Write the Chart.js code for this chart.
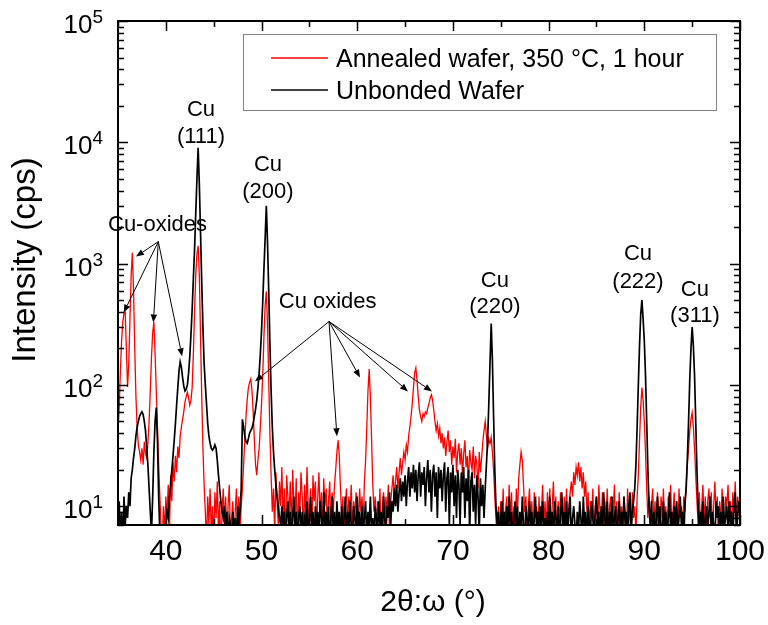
<!DOCTYPE html>
<html>
<head>
<meta charset="utf-8">
<title>XRD 2θ:ω scan</title>
<script src="https://cdn.jsdelivr.net/npm/chart.js@4/dist/chart.umd.min.js"></script>
<style>
  html, body { margin: 0; padding: 0; background: #fff; }
  canvas { display: block; }
</style>
</head>
<body>
<canvas id="xrd" width="768" height="625"></canvas>
<script>
// Scan angle, 2θ (degrees), 0.125° step — one row per degree
const twoTheta = [
  35, 35.125, 35.25, 35.375, 35.5, 35.625, 35.75, 35.875,
  36, 36.125, 36.25, 36.375, 36.5, 36.625, 36.75, 36.875,
  37, 37.125, 37.25, 37.375, 37.5, 37.625, 37.75, 37.875,
  38, 38.125, 38.25, 38.375, 38.5, 38.625, 38.75, 38.875,
  39, 39.125, 39.25, 39.375, 39.5, 39.625, 39.75, 39.875,
  40, 40.125, 40.25, 40.375, 40.5, 40.625, 40.75, 40.875,
  41, 41.125, 41.25, 41.375, 41.5, 41.625, 41.75, 41.875,
  42, 42.125, 42.25, 42.375, 42.5, 42.625, 42.75, 42.875,
  43, 43.125, 43.25, 43.375, 43.5, 43.625, 43.75, 43.875,
  44, 44.125, 44.25, 44.375, 44.5, 44.625, 44.75, 44.875,
  45, 45.125, 45.25, 45.375, 45.5, 45.625, 45.75, 45.875,
  46, 46.125, 46.25, 46.375, 46.5, 46.625, 46.75, 46.875,
  47, 47.125, 47.25, 47.375, 47.5, 47.625, 47.75, 47.875,
  48, 48.125, 48.25, 48.375, 48.5, 48.625, 48.75, 48.875,
  49, 49.125, 49.25, 49.375, 49.5, 49.625, 49.75, 49.875,
  50, 50.125, 50.25, 50.375, 50.5, 50.625, 50.75, 50.875,
  51, 51.125, 51.25, 51.375, 51.5, 51.625, 51.75, 51.875,
  52, 52.125, 52.25, 52.375, 52.5, 52.625, 52.75, 52.875,
  53, 53.125, 53.25, 53.375, 53.5, 53.625, 53.75, 53.875,
  54, 54.125, 54.25, 54.375, 54.5, 54.625, 54.75, 54.875,
  55, 55.125, 55.25, 55.375, 55.5, 55.625, 55.75, 55.875,
  56, 56.125, 56.25, 56.375, 56.5, 56.625, 56.75, 56.875,
  57, 57.125, 57.25, 57.375, 57.5, 57.625, 57.75, 57.875,
  58, 58.125, 58.25, 58.375, 58.5, 58.625, 58.75, 58.875,
  59, 59.125, 59.25, 59.375, 59.5, 59.625, 59.75, 59.875,
  60, 60.125, 60.25, 60.375, 60.5, 60.625, 60.75, 60.875,
  61, 61.125, 61.25, 61.375, 61.5, 61.625, 61.75, 61.875,
  62, 62.125, 62.25, 62.375, 62.5, 62.625, 62.75, 62.875,
  63, 63.125, 63.25, 63.375, 63.5, 63.625, 63.75, 63.875,
  64, 64.125, 64.25, 64.375, 64.5, 64.625, 64.75, 64.875,
  65, 65.125, 65.25, 65.375, 65.5, 65.625, 65.75, 65.875,
  66, 66.125, 66.25, 66.375, 66.5, 66.625, 66.75, 66.875,
  67, 67.125, 67.25, 67.375, 67.5, 67.625, 67.75, 67.875,
  68, 68.125, 68.25, 68.375, 68.5, 68.625, 68.75, 68.875,
  69, 69.125, 69.25, 69.375, 69.5, 69.625, 69.75, 69.875,
  70, 70.125, 70.25, 70.375, 70.5, 70.625, 70.75, 70.875,
  71, 71.125, 71.25, 71.375, 71.5, 71.625, 71.75, 71.875,
  72, 72.125, 72.25, 72.375, 72.5, 72.625, 72.75, 72.875,
  73, 73.125, 73.25, 73.375, 73.5, 73.625, 73.75, 73.875,
  74, 74.125, 74.25, 74.375, 74.5, 74.625, 74.75, 74.875,
  75, 75.125, 75.25, 75.375, 75.5, 75.625, 75.75, 75.875,
  76, 76.125, 76.25, 76.375, 76.5, 76.625, 76.75, 76.875,
  77, 77.125, 77.25, 77.375, 77.5, 77.625, 77.75, 77.875,
  78, 78.125, 78.25, 78.375, 78.5, 78.625, 78.75, 78.875,
  79, 79.125, 79.25, 79.375, 79.5, 79.625, 79.75, 79.875,
  80, 80.125, 80.25, 80.375, 80.5, 80.625, 80.75, 80.875,
  81, 81.125, 81.25, 81.375, 81.5, 81.625, 81.75, 81.875,
  82, 82.125, 82.25, 82.375, 82.5, 82.625, 82.75, 82.875,
  83, 83.125, 83.25, 83.375, 83.5, 83.625, 83.75, 83.875,
  84, 84.125, 84.25, 84.375, 84.5, 84.625, 84.75, 84.875,
  85, 85.125, 85.25, 85.375, 85.5, 85.625, 85.75, 85.875,
  86, 86.125, 86.25, 86.375, 86.5, 86.625, 86.75, 86.875,
  87, 87.125, 87.25, 87.375, 87.5, 87.625, 87.75, 87.875,
  88, 88.125, 88.25, 88.375, 88.5, 88.625, 88.75, 88.875,
  89, 89.125, 89.25, 89.375, 89.5, 89.625, 89.75, 89.875,
  90, 90.125, 90.25, 90.375, 90.5, 90.625, 90.75, 90.875,
  91, 91.125, 91.25, 91.375, 91.5, 91.625, 91.75, 91.875,
  92, 92.125, 92.25, 92.375, 92.5, 92.625, 92.75, 92.875,
  93, 93.125, 93.25, 93.375, 93.5, 93.625, 93.75, 93.875,
  94, 94.125, 94.25, 94.375, 94.5, 94.625, 94.75, 94.875,
  95, 95.125, 95.25, 95.375, 95.5, 95.625, 95.75, 95.875,
  96, 96.125, 96.25, 96.375, 96.5, 96.625, 96.75, 96.875,
  97, 97.125, 97.25, 97.375, 97.5, 97.625, 97.75, 97.875,
  98, 98.125, 98.25, 98.375, 98.5, 98.625, 98.75, 98.875,
  99, 99.125, 99.25, 99.375, 99.5, 99.625, 99.75, 99.875,
  100
];

// Annealed wafer, 350 °C, 1 hour (cps) — one row per degree
const annealed = [
  40, 65, 130, 230, 330, 390, 400, 200,
  96, 150, 350, 800, 1230, 600, 200, 80,
  45, 32, 28, 24, 30, 22, 34, 27,
  25, 33, 50, 90, 170, 270, 330, 180,
  90, 45, 22, 12, 7, 5, 10, 6,
  12, 8, 15, 6, 18, 11, 23, 16,
  26, 19, 31, 25, 38, 45, 52, 60,
  72, 80, 87, 78, 68, 75, 95, 180,
  400, 800, 1200, 1400, 800, 250, 80, 30,
  15, 9, 5, 12, 7, 14, 6, 10,
  5, 13, 8, 16, 6, 11, 4, 9,
  14, 7, 12, 5, 10, 15, 6, 8,
  11, 5, 9, 14, 7, 12, 6, 10,
  14, 22, 35, 55, 75, 95, 105, 112,
  90, 60, 35, 22, 18, 24, 30, 45,
  70, 120, 250, 450, 590, 320, 110, 40,
  18, 9, 14, 6, 19, 11, 7, 16,
  10, 21, 7, 14, 5, 18, 12, 8,
  16, 6, 20, 11, 8, 17, 5, 13,
  9, 19, 12, 6, 15, 8, 21, 10,
  7, 14, 5, 18, 11, 16, 6, 12,
  19, 8, 13, 5, 17, 10, 14, 7,
  11, 16, 6, 13, 9, 15, 20, 28,
  35, 26, 14, 8, 12, 5, 10, 14,
  7, 12, 9, 15, 6, 11, 8, 13,
  10, 6, 14, 9, 12, 7, 16, 24,
  45, 90, 135, 80, 35, 15, 9, 12,
  6, 11, 8, 14, 5, 10, 13, 7,
  12, 9, 15, 6, 11, 14, 18, 12,
  16, 21, 14, 19, 25, 18, 23, 28,
  24, 32, 28, 38, 45, 55, 70, 95,
  125, 138, 110, 80, 62, 55, 50, 58,
  55, 60, 58, 65, 70, 78, 83, 75,
  62, 50, 42, 48, 38, 44, 33, 40,
  30, 37, 26, 34, 42, 28, 35, 22,
  31, 25, 36, 19, 28, 33, 22, 30,
  18, 27, 35, 21, 26, 15, 29, 23,
  20, 31, 17, 26, 22, 14, 28, 19,
  25, 34, 42, 50, 38, 30, 36, 33,
  37, 28, 20, 12, 8, 5, 10, 6,
  11, 7, 14, 5, 9, 12, 6, 15,
  8, 13, 6, 10, 5, 14, 9, 17,
  22, 28, 24, 15, 9, 12, 5, 10,
  14, 7, 11, 5, 13, 8, 10, 6,
  12, 5, 9, 15, 7, 11, 6, 13,
  8, 14, 6, 10, 16, 7, 12, 5,
  11, 7, 13, 9, 5, 12, 8, 14,
  6, 10, 13, 16, 12, 19, 15, 21,
  18, 23, 16, 21, 14, 19, 12, 16,
  9, 13, 6, 11, 8, 14, 5, 10,
  12, 6, 15, 9, 7, 13, 5, 11,
  8, 14, 6, 10, 12, 5, 9, 15,
  7, 11, 5, 13, 8, 10, 6, 12,
  9, 5, 14, 7, 11, 6, 13, 8,
  10, 6, 12, 18, 35, 65, 95, 75,
  50, 28, 14, 8, 12, 6, 10, 14,
  7, 11, 5, 13, 9, 6, 12, 8,
  14, 6, 10, 5, 12, 8, 15, 7,
  9, 13, 6, 11, 5, 14, 8, 10,
  6, 12, 9, 15, 22, 30, 42, 52,
  59, 45, 30, 18, 11, 7, 13, 6,
  10, 15, 7, 12, 5, 11, 14, 8,
  13, 6, 10, 16, 8, 12, 5, 11,
  7, 14, 9, 5, 12, 10, 15, 8,
  11, 6, 13, 9, 16, 7, 12, 10,
  9
];

// Unbonded wafer (cps) — one row per degree
const unbonded = [
  6, 11, 5, 9, 4, 12, 7, 10,
  8, 13, 10, 17, 20, 25, 30, 38,
  45, 50, 55, 58, 60, 57, 50, 42,
  30, 22, 14, 9, 6, 12, 28, 50,
  65, 35, 12, 6, 4, 5, 7, 5,
  7, 9, 8, 12, 15, 20, 26, 35,
  48, 68, 95, 130, 155, 140, 115, 98,
  89, 92, 100, 125, 170, 260, 420, 750,
  1300, 2600, 5000, 9000, 4500, 1800, 700, 300,
  150, 100, 70, 48, 38, 33, 30, 29,
  30, 32, 30, 24, 18, 14, 11, 9,
  8, 10, 6, 9, 5, 8, 7, 4,
  9, 6, 8, 5, 10, 7, 9, 14,
  52, 45, 38, 34, 33, 36, 40, 42,
  44, 48, 55, 63, 75, 95, 125, 180,
  280, 480, 900, 1600, 3000, 1500, 600, 220,
  90, 45, 28, 20, 15, 12, 10, 8,
  7, 10, 6, 9, 5, 8, 11, 6,
  9, 5, 8, 12, 6, 9, 4, 8,
  10, 6, 9, 5, 8, 7, 11, 5,
  8, 12, 6, 9, 5, 10, 7, 9,
  6, 11, 8, 5, 13, 7, 9, 6,
  10, 5, 8, 12, 6, 9, 5, 11,
  7, 9, 5, 10, 6, 8, 12, 5,
  9, 6, 11, 7, 5, 10, 8, 6,
  12, 7, 9, 5, 10, 6, 8, 11,
  5, 9, 7, 12, 6, 8, 5, 10,
  8, 6, 11, 7, 9, 5, 12, 8,
  6, 10, 8, 13, 7, 11, 9, 14,
  10, 15, 9, 13, 17, 11, 16, 12,
  18, 10, 16, 21, 12, 19, 14, 22,
  13, 20, 11, 18, 23, 12, 19, 15,
  21, 10, 17, 24, 13, 20, 9, 18,
  22, 12, 19, 8, 21, 14, 20, 11,
  18, 23, 9, 17, 21, 7, 19, 13,
  22, 10, 18, 8, 20, 15, 7, 19,
  13, 21, 8, 17, 11, 20, 6, 16,
  19, 9, 15, 7, 18, 12, 6, 17,
  10, 15, 8, 14, 22, 35, 70, 150,
  320, 160, 55, 20, 10, 7, 9, 5,
  8, 11, 6, 9, 5, 10, 7, 12,
  6, 9, 5, 8, 11, 7, 10, 5,
  9, 6, 12, 7, 5, 10, 8, 6,
  11, 7, 9, 5, 8, 12, 6, 9,
  5, 10, 7, 11, 6, 8, 5, 9,
  7, 12, 6, 9, 5, 11, 8, 6,
  10, 5, 8, 13, 7, 9, 6, 11,
  6, 9, 12, 5, 8, 10, 7, 5,
  9, 6, 11, 8, 5, 12, 7, 9,
  5, 10, 7, 6, 11, 8, 5, 9,
  12, 7, 9, 5, 10, 6, 13, 8,
  6, 11, 5, 9, 7, 12, 6, 8,
  10, 5, 8, 11, 6, 9, 7, 12,
  7, 9, 5, 10, 13, 6, 9, 11,
  14, 22, 45, 100, 210, 380, 500, 350,
  230, 120, 50, 20, 10, 7, 11, 6,
  9, 5, 8, 12, 6, 10, 7, 5,
  11, 7, 9, 5, 8, 13, 6, 9,
  5, 10, 7, 11, 6, 8, 12, 7,
  9, 5, 11, 14, 25, 50, 110, 200,
  300, 210, 120, 50, 20, 10, 6, 9,
  7, 11, 5, 8, 10, 6, 9, 12,
  6, 9, 7, 5, 11, 8, 10, 6,
  9, 5, 12, 7, 8, 10, 6, 11,
  7, 9, 5, 10, 13, 6, 8, 11,
  9
];

const seriesNames = ['Annealed wafer, 350 °C, 1 hour', 'Unbonded Wafer'];
const seriesColors = ['#ff0000', '#000000'];

// Axis ticks and labels
const xTickValues = [40, 50, 60, 70, 80, 90, 100];
const xTickLabels = ['40', '50', '60', '70', '80', '90', '100'];
const yDecadeExponents = [1, 2, 3, 4, 5];
const yTickBase = '10';
const xTitle = '2θ:ω (°)';
const yTitle = 'Intensity (cps)';

// Reflection labels (two lines each), placed in data coordinates
const reflectionLabels = [
  { x: 43.67, lines: [['Cu', 16500], ['(111)', 9800]] },
  { x: 50.67, lines: [['Cu', 5800], ['(200)', 3500]] },
  { x: 74.39, lines: [['Cu', 647], ['(220)', 388]] },
  { x: 89.34, lines: [['Cu', 1080], ['(222)', 635]] },
  { x: 95.29, lines: [['Cu', 545], ['(311)', 327]] }
];

// Oxide call-outs: text anchor, arrow origin and arrow tips (data coordinates)
const oxideCallouts = [
  {
    text: 'Cu-oxides', at: [39.13, 1870], from: [39.21, 1517],
    tips: [[36.88, 1143], [35.6, 395], [38.7, 327], [41.7, 172]]
  },
  {
    text: 'Cu oxides', at: [56.91, 434], from: [57.05, 333],
    tips: [[49.32, 107], [57.88, 37.7], [60.29, 115], [65.3, 88.4], [67.81, 88.4]]
  }
];

const FONT = '"Liberation Sans", Arial, Helvetica, sans-serif';

function arrow(ctx, x0, y0, x1, y1) {
  const ang = Math.atan2(y1 - y0, x1 - x0);
  const len = 8, half = 3.2;
  const bx = x1 - len * Math.cos(ang), by = y1 - len * Math.sin(ang);
  ctx.beginPath();
  ctx.moveTo(x0, y0);
  ctx.lineTo(bx, by);
  ctx.stroke();
  ctx.beginPath();
  ctx.moveTo(x1, y1);
  ctx.lineTo(bx + half * Math.sin(ang), by - half * Math.cos(ang));
  ctx.lineTo(bx - half * Math.sin(ang), by + half * Math.cos(ang));
  ctx.closePath();
  ctx.fill();
}

const decorations = {
  id: 'decorations',
  afterDatasetsDraw(chart) {
    const { ctx, chartArea: a, scales: { x, y } } = chart;
    ctx.save();
    ctx.strokeStyle = '#000';
    ctx.fillStyle = '#000';

    // tick marks, pointing inward on all four sides
    ctx.lineWidth = 1.5;
    ctx.beginPath();
    for (let v = 35; v <= 100; v += 5) {
      const px = Math.round(x.getPixelForValue(v)) + 0.5;
      const len = v % 10 === 0 ? 10 : 6;
      ctx.moveTo(px, a.bottom); ctx.lineTo(px, a.bottom - len);
      ctx.moveTo(px, a.top); ctx.lineTo(px, a.top + len);
    }
    for (let e = 0; e <= 5; e++) {
      for (let m = 1; m <= 9; m++) {
        const v = m * Math.pow(10, e);
        if (v < y.min || v > y.max) continue;
        const py = Math.round(y.getPixelForValue(v)) + 0.5;
        const len = m === 1 ? 10 : 6;
        ctx.moveTo(a.left, py); ctx.lineTo(a.left + len, py);
        ctx.moveTo(a.right, py); ctx.lineTo(a.right - len, py);
      }
    }
    ctx.stroke();

    // frame
    ctx.lineWidth = 2;
    ctx.strokeRect(a.left, a.top, a.right - a.left, a.bottom - a.top);

    // x tick labels
    ctx.font = '30px ' + FONT;
    ctx.textAlign = 'center';
    ctx.textBaseline = 'alphabetic';
    xTickValues.forEach((v, i) => {
      ctx.fillText(xTickLabels[i], x.getPixelForValue(v), a.bottom + 35);
    });

    // y tick labels: 10 with raised exponent
    yDecadeExponents.forEach(exp => {
      const py = y.getPixelForValue(Math.pow(10, exp));
      const right = a.left - 15;
      ctx.font = '19px ' + FONT;
      const ew = ctx.measureText(String(exp)).width;
      ctx.textAlign = 'left';
      ctx.fillText(String(exp), right - ew, py + 2);
      ctx.font = '26px ' + FONT;
      const bw = ctx.measureText(yTickBase).width;
      ctx.fillText(yTickBase, right - ew - bw, py + 12);
    });

    // axis titles
    ctx.textAlign = 'center';
    ctx.font = '30px ' + FONT;
    ctx.fillText(xTitle, (a.left + a.right) / 2 + 4, 611);
    ctx.save();
    ctx.translate(35, 260);
    ctx.rotate(-Math.PI / 2);
    ctx.font = '33px ' + FONT;
    ctx.fillText(yTitle, 0, 0);
    ctx.restore();

    // reflection labels
    ctx.font = '22px ' + FONT;
    reflectionLabels.forEach(r => {
      const px = x.getPixelForValue(r.x);
      r.lines.forEach(([t, v]) => ctx.fillText(t, px, y.getPixelForValue(v)));
    });

    // oxide call-outs
    ctx.lineWidth = 1;
    oxideCallouts.forEach(c => {
      ctx.fillText(c.text, x.getPixelForValue(c.at[0]), y.getPixelForValue(c.at[1]));
      const x0 = x.getPixelForValue(c.from[0]), y0 = y.getPixelForValue(c.from[1]);
      c.tips.forEach(([tx, ty]) => arrow(ctx, x0, y0, x.getPixelForValue(tx), y.getPixelForValue(ty)));
    });

    // legend box
    const lx = a.left + 125, ly = a.top + 13, lw = 473, lh = 76;
    ctx.fillStyle = '#fff';
    ctx.fillRect(lx, ly, lw, lh);
    ctx.strokeStyle = '#808080';
    ctx.lineWidth = 1;
    ctx.strokeRect(lx + 0.5, ly + 0.5, lw, lh);
    ctx.font = '25px ' + FONT;
    ctx.textAlign = 'left';
    seriesNames.forEach((name, i) => {
      const rowY = ly + 24 + i * 32;
      ctx.strokeStyle = seriesColors[i];
      ctx.lineWidth = 1.5;
      ctx.beginPath();
      ctx.moveTo(lx + 28, rowY); ctx.lineTo(lx + 85, rowY);
      ctx.stroke();
      ctx.fillStyle = '#000';
      ctx.fillText(name, lx + 93, rowY + 8.7);
    });
    ctx.restore();
  }
};

const toPoints = values => twoTheta.map((t, i) => ({ x: t, y: values[i] }));

new Chart(document.getElementById('xrd'), {
  type: 'line',
  data: {
    datasets: [
      { label: seriesNames[0], data: toPoints(annealed), borderColor: seriesColors[0],
        borderWidth: 1.3, pointRadius: 0, tension: 0, order: 1 },
      { label: seriesNames[1], data: toPoints(unbonded), borderColor: seriesColors[1],
        borderWidth: 1.7, pointRadius: 0, tension: 0, order: 0 }
    ]
  },
  options: {
    responsive: false,
    animation: false,
    devicePixelRatio: 1,
    layout: { padding: { left: 118, right: 28, top: 21, bottom: 100 } },
    plugins: { legend: { display: false }, tooltip: { enabled: false } },
    scales: {
      x: { type: 'linear', min: 35, max: 100, display: false },
      y: { type: 'logarithmic', min: 7, max: 100000, display: false }
    }
  },
  plugins: [decorations]
});
</script>
</body>
</html>
